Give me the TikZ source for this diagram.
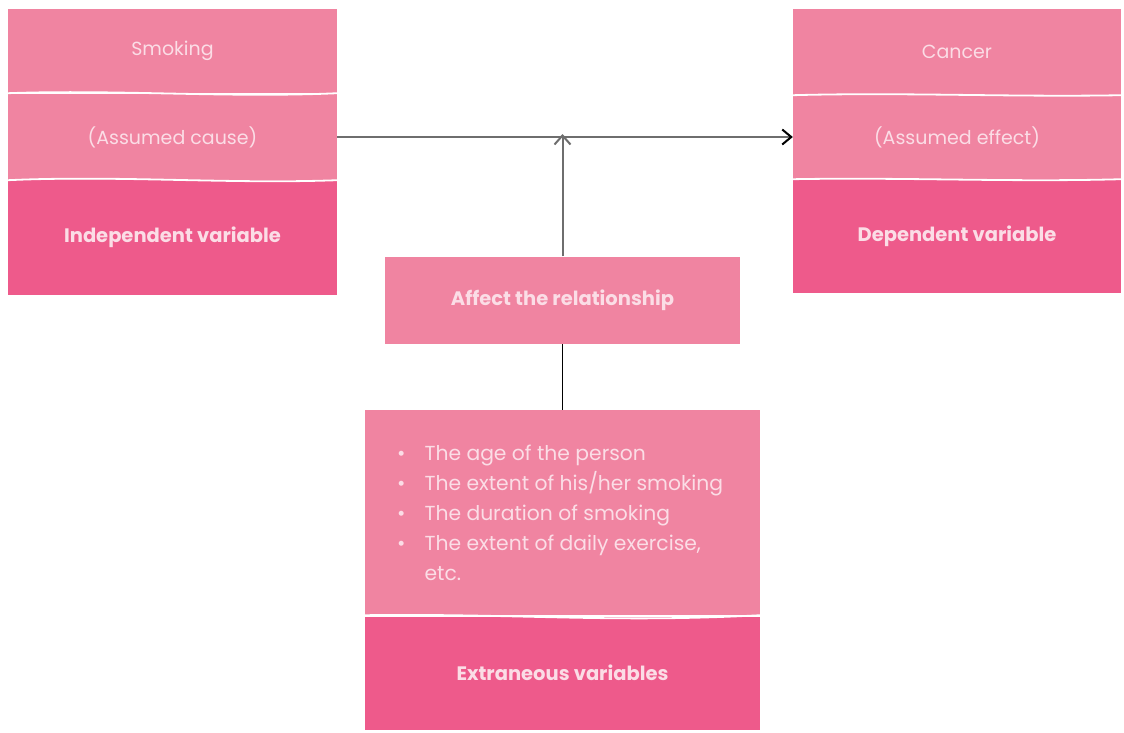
\documentclass[tikz,border=0pt]{standalone}
\usepackage{fontspec}
\setmainfont{Poppins}
\usetikzlibrary{arrows.meta}
\definecolor{lightpink}{HTML}{F084A1}
\definecolor{darkpink}{HTML}{EE5A8B}
\definecolor{pinktext}{HTML}{FBDDE6}
\definecolor{linegray}{HTML}{6E6E6E}
\begin{document}
\begin{tikzpicture}[x=1pt,y=-1pt,
    band/.style={fill=lightpink,text=pinktext,minimum width=329pt,inner sep=0pt,font=\fontsize{19}{22}\selectfont},
    head/.style={fill=darkpink,text=pinktext,minimum width=329pt,inner sep=0pt,font=\bfseries\fontsize{19.5}{22}\selectfont},
    divider/.style={white,line width=1.8pt}]
    \useasboundingbox (0,0) rectangle (1124,732);
    % left box
    \node[band,minimum height=84pt] (smoke) at (172.5,51) {Smoking};
    \node[band,minimum height=86pt] (cause) at (172.5,137) {(Assumed cause)};
    \node[head,minimum height=115pt] (indep) at (172.5,237) {Independent variable};
    \draw[divider] (smoke.south west) .. controls +(110,-4) and +(-110,5) .. (smoke.south east);
    \draw[divider] (cause.south west) .. controls +(110,-5) and +(-110,4) .. (cause.south east);
    % right box
    \node[band,minimum width=328pt,minimum height=86pt] (cancer) at (957,52) {Cancer};
    \node[band,minimum width=328pt,minimum height=84pt] (effect) at (957,137) {(Assumed effect)};
    \node[head,minimum width=328pt,minimum height=114pt] (dep) at (957,236) {Dependent variable};
    \draw[divider] (cancer.south west) .. controls +(110,-3) and +(-110,2) .. (cancer.south east);
    \draw[divider] (effect.south west) .. controls +(110,-2) and +(-110,3) .. (effect.south east);
    % middle
    \node[band,minimum width=355pt,minimum height=87pt,font=\bfseries\fontsize{19.5}{22}\selectfont] (affect) at (562.5,300) {Affect the relationship};
    \node[band,minimum width=395pt,minimum height=205pt] (list) at (562.5,512.5) {};
    \node[anchor=north west,text=pinktext,inner sep=0pt,font=\fontsize{20.3}{30}\selectfont] (items) at (397,439) {%
        \begin{tabular}{@{}l@{\hspace{19pt}}l@{}}
        \textbullet & The age of the person\\
        \textbullet & The extent of his/her smoking\\
        \textbullet & The duration of smoking\\
        \textbullet & The extent of daily exercise,\\
                    & etc.
        \end{tabular}};
    \node[head,minimum width=395pt,minimum height=113pt] (extra) at (562.5,673) {Extraneous variables};
    \draw[divider] (list.south west) .. controls +(150,-2) and +(-150,8) .. (list.south east);
    % connectors
    \coordinate (meet) at (affect.north |- cause.east);
    \draw[linegray,line width=2pt,-{Straight Barb[black,length=9pt,width=15pt]}] (cause.east) -- (effect.west);
    \draw[linegray,line width=2pt,-{Straight Barb[length=9pt,width=16pt]}] (affect.north) -- ([yshift=3pt]meet);
    \draw[black,line width=1.6pt] (list.north) -- (affect.south);
\end{tikzpicture}
\end{document}
